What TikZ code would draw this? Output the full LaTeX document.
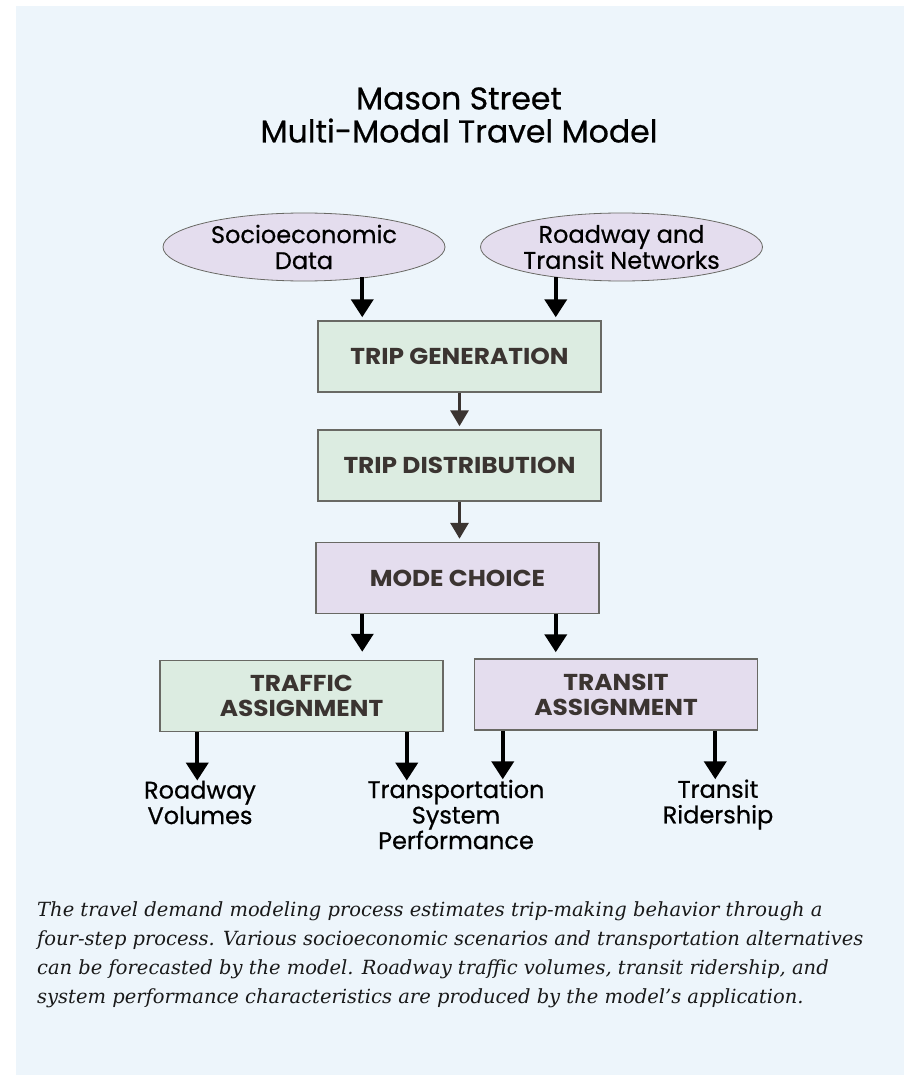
\documentclass[tikz,border=0pt]{standalone}
\usepackage{fontspec}
\setmainfont{Poppins}
\newfontfamily\medfont{Poppins}[FakeBold=0.6]
\newfontfamily\boxfont{Poppins}[FakeStretch=1.08]
\newfontfamily\capfont{DejaVu Serif}
\usetikzlibrary{arrows.meta,shapes.geometric}
\definecolor{bgblue}{RGB}{237,245,251}
\definecolor{boxgreen}{RGB}{220,236,225}
\definecolor{boxlav}{RGB}{228,221,238}
\definecolor{edgegrey}{RGB}{105,105,100}
\definecolor{darktext}{RGB}{59,52,49}
\begin{document}
\begin{tikzpicture}[x=1pt,y=-1pt,
  stepbox/.style={draw=edgegrey,line width=1.5pt,minimum width=283pt,minimum height=71pt,
    inner sep=0pt,align=center,text=darktext,font=\boxfont\bfseries\fontsize{23}{25}\selectfont},
  gbox/.style={stepbox,fill=boxgreen},
  lbox/.style={stepbox,fill=boxlav},
  oval/.style={ellipse,draw=edgegrey,line width=0.8pt,fill=boxlav,minimum width=282pt,minimum height=68pt,inner sep=0pt},
  ovaltext/.style={align=center,inner sep=0pt,font=\medfont\fontsize{24}{26}\selectfont},
  outtext/.style={align=center,inner sep=0pt,font=\medfont\fontsize{24}{25.5}\selectfont},
  blackarr/.style={line width=4pt,-{Triangle[width=22pt,length=18pt]}},
  darkarr/.style={line width=3.2pt,draw=darktext,-{Triangle[width=18pt,length=16pt]}},
]
\fill[white] (0,0) rectangle (909,1075);
\useasboundingbox (0,0) rectangle (909,1075);
\fill[bgblue] (16,6) rectangle (904,1075);

% title
\node[align=center,inner sep=0pt,font=\medfont\fontsize{31.5}{33}\selectfont] (title) at (459,115)
  {Mason Street\\Multi-Modal Travel Model};

% inputs
\node[oval,label={[ovaltext]center:Socioeconomic\\Data}] (e1) at (304,247) {};
\node[oval,label={[ovaltext]center:Roadway and\\Transit Networks}] (e2) at (621.5,247) {};

% steps
\node[gbox] (tg) at (459.5,356.5) {TRIP GENERATION};
\node[gbox] (td) at (459.5,465.5) {TRIP DISTRIBUTION};
\node[lbox] (mc) at (457.5,578) {MODE CHOICE};
\node[gbox] (ta) at (301.5,696) {TRAFFIC\\ASSIGNMENT};
\node[lbox] (tr) at (616,694.5) {TRANSIT\\ASSIGNMENT};

% outputs
\node[outtext] (rv) at (200,802.5) {Roadway\\Volumes};
\node[outtext] (sp) at (456,814.5) {Transportation\\System\\Performance};
\node[outtext] (rid) at (718,804.5) {Transit\\Ridership};

% caption
\node[anchor=north west,align=left,inner sep=0pt,text=black!90,
  font=\capfont\itshape\fontsize{19.5}{29}\selectfont] (cap) at (37,901)
  {The travel demand modeling process estimates trip-making behavior through a\\
   four-step process. Various socioeconomic scenarios and transportation alternatives\\
   can be forecasted by the model. Roadway traffic volumes, transit ridership, and\\
   system performance characteristics are produced by the model’s application.};

% connectors
\draw[blackarr] ([xshift=45pt,yshift=4pt]e1.south -| tg.north west) -- ([xshift=45pt,yshift=3pt]tg.north west);
\draw[blackarr] ([xshift=-46pt,yshift=4pt]e2.south -| tg.north east) -- ([xshift=-46pt,yshift=3pt]tg.north east);
\draw[darkarr] (tg.south) -- ([yshift=3pt]td.north);
\draw[darkarr] (td.south) -- ([yshift=3pt]td.south |- mc.north);
\draw[blackarr] ([xshift=47pt]mc.south west) -- ([xshift=47pt,yshift=8pt]mc.south west |- ta.north);
\draw[blackarr] ([xshift=-44pt]mc.south east) -- ([xshift=-44pt,yshift=6pt]mc.south east |- tr.north);
\draw[blackarr] ([xshift=38pt]ta.south west) -- ([xshift=38pt]ta.south west |- rv.north) ;
\draw[blackarr] ([xshift=-37pt]ta.south east) -- ([xshift=-37pt]ta.south east |- rv.north);
\draw[blackarr] ([xshift=29pt]tr.south west) -- ([xshift=29pt]tr.south west |- rid.north);
\draw[blackarr] ([xshift=-43pt]tr.south east) -- ([xshift=-43pt]tr.south east |- rid.north);
\end{tikzpicture}
\end{document}
